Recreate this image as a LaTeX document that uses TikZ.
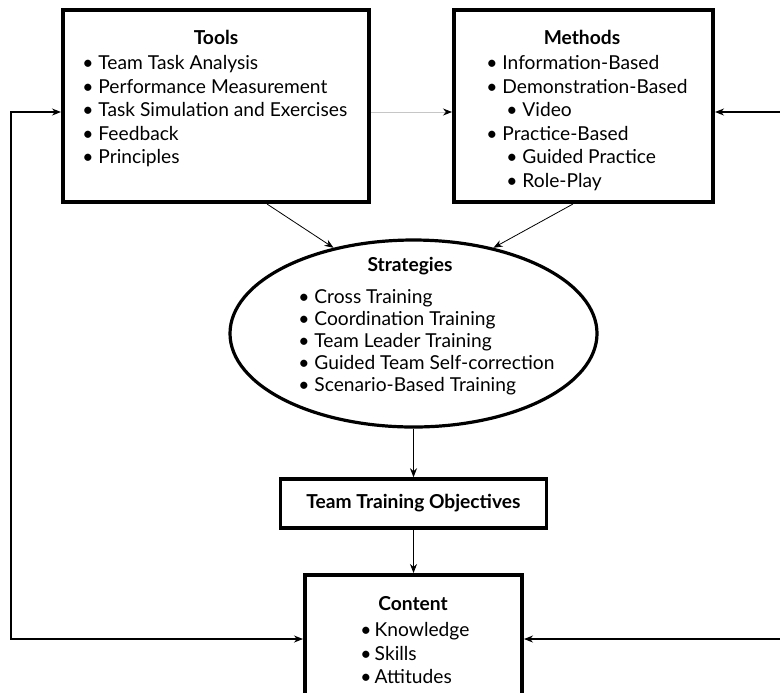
\documentclass[tikz,border=0pt]{standalone}
\usepackage{fontspec}
\setmainfont{Lato}
\usetikzlibrary{arrows.meta,positioning,shapes.geometric}

\begin{document}
\begin{tikzpicture}[x=0.5pt, y=-0.5pt,
    box/.style={draw, line width=2pt, inner sep=0pt},
    head/.style={font=\fontsize{9.6}{11.75}\selectfont\bfseries, inner sep=0pt},
    items/.style={align=left, inner sep=0pt, anchor=north west,
        font=\fontsize{9.6}{11.75}\selectfont},
    link/.style={-{Stealth[length=4.5pt,width=3.5pt]}, thin},
    loop/.style={{Stealth[length=4.5pt,width=3.5pt]}-{Stealth[length=4.5pt,width=3.5pt]}, semithick}]

    \useasboundingbox (0,0) rectangle (780,692);

    % the four boxes and the ellipse
    \node[box, minimum width=153pt, minimum height=96pt] (tools) at (216,106) {};
    \node[box, minimum width=129.5pt, minimum height=96pt] (methods) at (583.5,106) {};
    \node[draw, ellipse, line width=1.6pt, inner sep=0pt,
        minimum width=183.5pt, minimum height=93.5pt] (strat) at (413.5,333.5) {};
    \node[box, line width=1.8pt, minimum width=133pt, minimum height=24.5pt,
        font=\fontsize{9.6}{11.75}\selectfont\bfseries] (objectives) at (413.5,503.5) {Team Training Objectives};
    \node[box, minimum width=108.5pt, minimum height=68.5pt] (content) at (413.5,643.5) {};

    % texts
    \node[head] (toolsHead) at (216,37) {Tools};
    \node[items] (toolsList) at (82,55) {\textbullet\ Team Task Analysis\\
        \textbullet\ Performance Measurement\\
        \textbullet\ Task Simulation and Exercises\\
        \textbullet\ Feedback\\
        \textbullet\ Principles};

    \node[head] (methodsHead) at (582,37) {Methods};
    \node[items] (methodsList) at (486,55) {\textbullet\ Information-Based\\
        \textbullet\ Demonstration-Based\\
        \hspace{10pt}\textbullet\ Video\\
        \textbullet\ Practice-Based\\
        \hspace{10pt}\textbullet\ Guided Practice\\
        \hspace{10pt}\textbullet\ Role-Play};

    \node[head] (stratHead) at (410,266) {Strategies};
    \node[items, font=\fontsize{9.6}{11}\selectfont] (stratList) at (298,289) {\textbullet\ Cross Training\\
        \textbullet\ Coordination Training\\
        \textbullet\ Team Leader Training\\
        \textbullet\ Guided Team Self-correction\\
        \textbullet\ Scenario-Based Training};

    \node[head] (contentHead) at (413,604) {Content};
    \node[items] (contentList) at (360,622) {\textbullet\,Knowledge\\
        \textbullet\,Skills\\
        \textbullet\,Attitudes};

    % arrows
    \draw[link, draw=gray!45, -{Stealth[length=4.5pt,width=3.5pt,color=black]}]
        ([yshift=-3pt]tools.east) -- ([yshift=-3pt]methods.west);
    \draw[link] ([xshift=25.5pt]tools.south) -- (strat.133);
    \draw[link] ([xshift=-5.25pt]methods.south) -- (strat.47);
    \draw[link] (strat.south) -- (objectives.north);
    \draw[link] (objectives.south) -- (content.north);

    \draw[loop] ([yshift=-3pt]tools.west) -| (11,376) |- ([yshift=2.25pt]content.west);
    \draw[loop] ([yshift=-3pt]methods.east) -| (784,376) |- ([yshift=2.25pt]content.east);

\end{tikzpicture}
\end{document}
